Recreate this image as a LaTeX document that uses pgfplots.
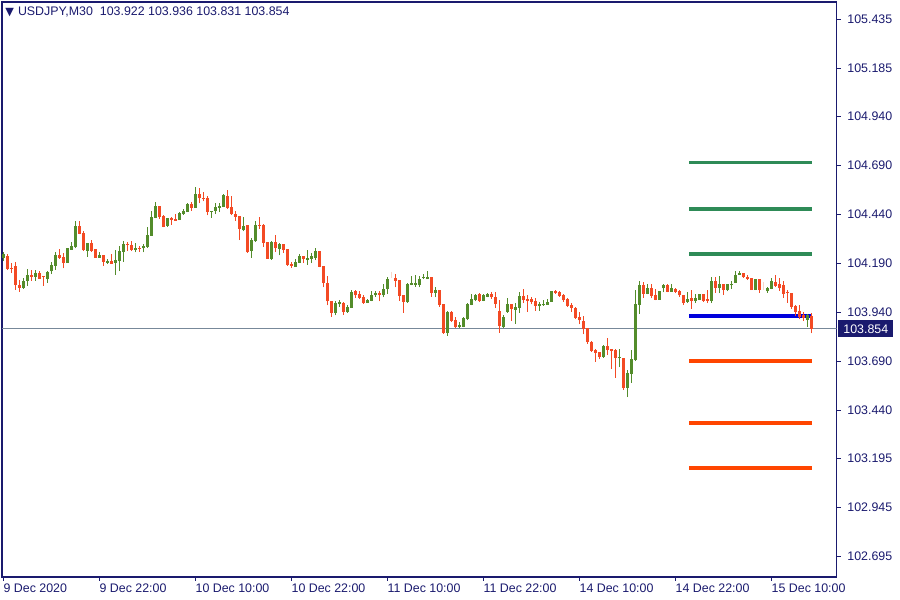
\documentclass[border=0pt]{standalone}
\usepackage{fontspec}
\setmainfont{Liberation Sans}
\newfontfamily\symfont{DejaVu Sans}
\usepackage{pgfplots}
\pgfplotsset{compat=1.18}
\usepackage{pgfplotstable}

\definecolor{mtnavy}{RGB}{26,26,110}
\definecolor{bull}{RGB}{83,140,43}
\definecolor{bear}{RGB}{243,74,36}
\definecolor{lvlgreen}{RGB}{46,139,87}
\definecolor{lvlred}{RGB}{255,69,0}
\definecolor{lvlblue}{RGB}{0,0,220}
\definecolor{pricegray}{RGB}{119,136,153}
\definecolor{doji}{RGB}{248,214,200}

% USDJPY M30: index, open, high, low, close
\pgfplotstableread{
i o h l c
0 104.216 104.246 104.200 104.236
1 104.226 104.234 104.154 104.160
2 104.167 104.192 104.138 104.162
3 104.175 104.194 104.054 104.078
4 104.080 104.102 104.044 104.065
5 104.065 104.115 104.059 104.098
6 104.096 104.160 104.074 104.129
7 104.129 104.153 104.100 104.119
8 104.121 104.153 104.100 104.139
9 104.139 104.149 104.110 104.111
10 104.122 104.125 104.074 104.117
11 104.108 104.149 104.090 104.144
12 104.147 104.197 104.133 104.180
13 104.177 104.245 104.156 104.231
14 104.231 104.262 104.212 104.217
15 104.221 104.241 104.163 104.190
16 104.192 104.268 104.192 104.268
17 104.258 104.299 104.258 104.277
18 104.270 104.406 104.265 104.379
19 104.379 104.406 104.336 104.339
20 104.345 104.355 104.251 104.255
21 104.253 104.292 104.222 104.292
22 104.292 104.306 104.248 104.253
23 104.262 104.262 104.217 104.217
24 104.217 104.245 104.217 104.231
25 104.231 104.231 104.176 104.197
26 104.192 104.209 104.187 104.200
27 104.200 104.234 104.187 104.187
28 104.192 104.258 104.129 104.207
29 104.200 104.278 104.149 104.251
30 104.248 104.302 104.197 104.287
31 104.286 104.299 104.251 104.282
32 104.282 104.302 104.251 104.258
33 104.258 104.292 104.245 104.268
34 104.268 104.275 104.248 104.265
35 104.265 104.286 104.245 104.278
36 104.272 104.374 104.268 104.333
37 104.329 104.455 104.329 104.426
38 104.421 104.501 104.418 104.481
39 104.481 104.481 104.416 104.426
40 104.430 104.436 104.372 104.375
41 104.379 104.419 104.374 104.419
42 104.419 104.423 104.385 104.409
43 104.414 104.440 104.406 104.406
44 104.409 104.450 104.409 104.447
45 104.440 104.464 104.436 104.455
46 104.450 104.495 104.450 104.490
47 104.490 104.501 104.457 104.471
48 104.471 104.579 104.471 104.542
49 104.542 104.573 104.495 104.520
50 104.522 104.552 104.505 104.516
51 104.522 104.532 104.433 104.451
52 104.453 104.457 104.421 104.457
53 104.457 104.495 104.440 104.477
54 104.471 104.495 104.450 104.483
55 104.477 104.542 104.474 104.537
56 104.532 104.563 104.467 104.471
57 104.474 104.532 104.436 104.440
58 104.440 104.454 104.406 104.426
59 104.430 104.430 104.307 104.365
60 104.358 104.426 104.352 104.379
61 104.385 104.385 104.242 104.246
62 104.253 104.318 104.217 104.307
63 104.301 104.406 104.297 104.385
64 104.385 104.426 104.365 104.382
65 104.385 104.389 104.273 104.293
66 104.297 104.297 104.212 104.212
67 104.210 104.301 104.207 104.297
68 104.297 104.334 104.246 104.266
69 104.263 104.293 104.229 104.287
70 104.287 104.287 104.242 104.256
71 104.263 104.263 104.175 104.181
72 104.185 104.195 104.165 104.175
73 104.171 104.209 104.171 104.195
74 104.192 104.236 104.190 104.226
75 104.226 104.226 104.190 104.209
76 104.205 104.256 104.181 104.216
77 104.212 104.242 104.190 104.226
78 104.216 104.266 104.205 104.253
79 104.253 104.253 104.168 104.171
80 104.175 104.175 104.066 104.087
81 104.090 104.124 103.974 103.995
82 103.998 103.998 103.916 103.936
83 103.936 103.998 103.923 103.988
84 103.979 104.000 103.966 103.991
85 103.985 103.991 103.926 103.940
86 103.940 103.974 103.936 103.966
87 103.960 104.052 103.960 104.042
88 104.046 104.052 104.012 104.025
89 104.032 104.049 104.008 104.012
90 104.018 104.025 103.981 103.988
91 103.988 104.005 103.985 104.001
92 103.998 104.046 103.995 104.028
93 104.025 104.046 104.018 104.039
94 104.039 104.049 103.995 104.028
95 104.025 104.083 104.015 104.059
96 104.056 104.120 104.032 104.110
97 104.124 104.144 104.113 104.124
98 104.113 104.134 104.066 104.100
99 104.103 104.103 103.998 104.022
100 104.028 104.028 103.936 103.991
101 103.991 104.090 103.988 104.083
102 104.079 104.124 104.076 104.088
103 104.078 104.129 104.068 104.088
104 104.079 104.124 104.066 104.110
105 104.113 104.134 104.107 104.117
106 104.107 104.147 104.107 104.120
107 104.120 104.120 104.018 104.039
108 104.039 104.066 104.015 104.052
109 104.052 104.052 103.967 103.978
110 103.981 103.981 103.828 103.835
111 103.835 103.947 103.818 103.940
112 103.940 103.947 103.889 103.893
113 103.899 103.913 103.858 103.862
114 103.862 103.889 103.858 103.875
115 103.865 103.913 103.862 103.909
116 103.903 103.985 103.899 103.981
117 103.978 104.032 103.974 104.005
118 104.001 104.032 103.995 104.028
119 104.032 104.035 103.991 103.998
120 103.998 104.032 103.995 104.025
121 104.018 104.035 104.015 104.032
122 104.032 104.042 104.008 104.015
123 104.018 104.042 103.960 103.981
124 103.947 104.001 103.835 103.868
125 103.862 103.923 103.858 103.913
126 103.940 104.013 103.936 103.981
127 103.981 103.981 103.896 103.955
128 103.952 103.986 103.880 103.966
129 103.962 104.044 103.936 104.022
130 104.022 104.057 103.986 104.003
131 104.008 104.027 103.941 103.996
132 104.005 104.017 103.979 103.993
133 103.996 104.010 103.947 103.972
134 103.972 103.993 103.947 103.983
135 103.974 104.000 103.972 103.981
136 103.978 104.006 103.978 103.993
137 103.993 104.047 103.993 104.047
138 104.049 104.054 104.034 104.039
139 104.044 104.047 104.017 104.022
140 104.027 104.034 103.993 104.000
141 104.006 104.013 103.966 103.972
142 103.976 103.986 103.941 103.960
143 103.962 103.966 103.904 103.911
144 103.914 103.938 103.877 103.898
145 103.894 103.921 103.826 103.852
146 103.857 103.860 103.778 103.788
147 103.788 103.792 103.738 103.743
148 103.746 103.751 103.687 103.731
149 103.734 103.738 103.700 103.711
150 103.711 103.772 103.707 103.768
151 103.768 103.809 103.721 103.746
152 103.751 103.751 103.649 103.741
153 103.746 103.751 103.605 103.707
154 103.704 103.751 103.659 103.711
155 103.707 103.707 103.541 103.554
156 103.554 103.646 103.506 103.629
157 103.625 103.745 103.578 103.700
158 103.694 104.054 103.690 103.980
159 103.976 104.098 103.931 104.078
160 104.078 104.095 104.013 104.034
161 104.034 104.085 104.030 104.061
162 104.061 104.085 104.010 104.023
163 104.027 104.057 104.000 104.003
164 104.003 104.047 104.003 104.047
165 104.061 104.085 104.040 104.078
166 104.078 104.085 104.040 104.044
167 104.044 104.085 104.044 104.061
168 104.057 104.064 104.037 104.044
169 104.049 104.052 104.018 104.025
170 104.028 104.028 103.978 103.985
171 103.991 104.042 103.985 104.008
172 104.012 104.052 103.957 103.998
173 103.998 104.032 103.985 104.012
174 104.001 104.032 104.001 104.032
175 104.032 104.032 103.991 103.998
176 104.008 104.052 103.985 103.998
177 103.998 104.117 103.985 104.100
178 104.100 104.120 104.039 104.063
179 104.063 104.124 104.036 104.083
180 104.083 104.083 104.028 104.052
181 104.052 104.083 104.046 104.083
182 104.076 104.097 104.059 104.083
183 104.090 104.147 104.087 104.131
184 104.131 104.147 104.128 104.138
185 104.138 104.138 104.113 104.117
186 104.120 104.128 104.103 104.110
187 104.113 104.113 104.052 104.052
188 104.052 104.107 104.052 104.107
189 104.107 104.107 104.039 104.052
190 104.073 104.093 104.052 104.073
191 104.046 104.069 104.039 104.063
192 104.059 104.113 104.056 104.097
193 104.093 104.128 104.069 104.073
194 104.083 104.113 104.049 104.063
195 104.076 104.100 104.012 104.032
196 104.039 104.052 103.988 104.036
197 104.039 104.039 103.957 103.967
198 103.971 103.974 103.920 103.940
199 103.943 103.974 103.906 103.913
200 103.926 103.940 103.896 103.909
201 103.899 103.930 103.865 103.923
202 103.922 103.936 103.831 103.854
}\candles

\pgfplotsset{
  wick/.style={line width=0.5pt, quiver={u=0, v={\thisrow{h}-\thisrow{l}}}},
  body/.style={line width=1.5pt, quiver={u=0, v={max(abs(\thisrow{c}-\thisrow{o}),0.004)}}},
}

\begin{document}
\begin{tikzpicture}
\begin{axis}[
  name=ax,
  scale only axis,
  width=417.25pt, height=287.5pt,
  xmin=-0.3, xmax=208.3,
  ymin=102.588, ymax=105.522,
  axis line style={mtnavy, line width=0.6pt},
  tick style={mtnavy, line width=0.5pt},
  tick align=outside,
  major tick length=2pt,
  xtick pos=bottom, ytick pos=right,
  yticklabel pos=right,
  xtick={0,24,48,72,96,120,144,168,192},
  xticklabels={9 Dec 2020, 9 Dec 22:00, 10 Dec 10:00, 10 Dec 22:00, 11 Dec 10:00, 11 Dec 22:00, 14 Dec 10:00, 14 Dec 22:00, 15 Dec 10:00},
  ytick={102.695,102.945,103.195,103.440,103.690,103.940,104.190,104.440,104.690,104.940,105.185,105.435},
  scaled y ticks=false,
  ticklabel style={font=\fontsize{6.2}{7}\selectfont, text=mtnavy},
  xticklabel style={anchor=north west, inner sep=0pt, yshift=-1pt},
  yticklabel style={/pgf/number format/fixed, /pgf/number format/fixed zerofill,
    /pgf/number format/precision=3, /pgf/number format/assume math mode=true,
    anchor=west, inner sep=0pt, xshift=3.25pt},
  extra y ticks={103.854},
  extra y tick labels={103.854},
  extra y tick style={major tick length=0pt,
    yticklabel style={fill=mtnavy, text=white, inner xsep=2.5pt, inner ysep=2pt, xshift=-2.5pt}},
]
% current price line
\addplot[pricegray, line width=0.5pt] coordinates {(-0.3,103.854) (208.3,103.854)};
% levels
\addplot[lvlgreen, line width=1.6pt] coordinates {(171.5,104.705) (202.2,104.705)};
\addplot[lvlgreen, line width=1.6pt] coordinates {(171.5,104.466) (202.2,104.466)};
\addplot[lvlgreen, line width=1.6pt] coordinates {(171.5,104.236) (202.2,104.236)};
\addplot[lvlblue, line width=1.7pt] coordinates {(171.5,103.920) (202.2,103.920)};
\addplot[lvlred, line width=1.6pt] coordinates {(171.5,103.690) (202.2,103.690)};
\addplot[lvlred, line width=1.6pt] coordinates {(171.5,103.374) (202.2,103.374)};
\addplot[lvlred, line width=1.6pt] coordinates {(171.5,103.144) (202.2,103.144)};
% candles
\addplot[bull, wick, restrict expr to domain={\thisrow{c}-\thisrow{o}}{0.0005:1}] table[x=i, y=l] {\candles};
\addplot[bear, wick, restrict expr to domain={\thisrow{c}-\thisrow{o}}{-1:-0.0005}] table[x=i, y=l] {\candles};
\addplot[doji, wick, restrict expr to domain={\thisrow{c}-\thisrow{o}}{-0.0004:0.0004}] table[x=i, y=l] {\candles};
\addplot[bull, body, restrict expr to domain={\thisrow{c}-\thisrow{o}}{0.0005:1}] table[x=i, y expr={min(\thisrow{o},\thisrow{c})}] {\candles};
\addplot[bear, body, restrict expr to domain={\thisrow{c}-\thisrow{o}}{-1:-0.0005}] table[x=i, y expr={min(\thisrow{o},\thisrow{c})}] {\candles};
\end{axis}
\node[anchor=base west, inner sep=0pt, text=mtnavy, font=\fontsize{6.2}{7}\selectfont]
  at ([xshift=1.5pt, yshift=-7pt]ax.north west)
  {{\symfont\fontsize{5.6}{6}\selectfont ▼}\hspace{2pt}USDJPY,M30\hspace{3.5pt}103.922 103.936 103.831 103.854};
\pgfresetboundingbox
\path ([xshift=-1pt, yshift=-11.5pt]ax.south west) rectangle ([xshift=31.75pt, yshift=1pt]ax.north east);
\end{tikzpicture}
\end{document}
